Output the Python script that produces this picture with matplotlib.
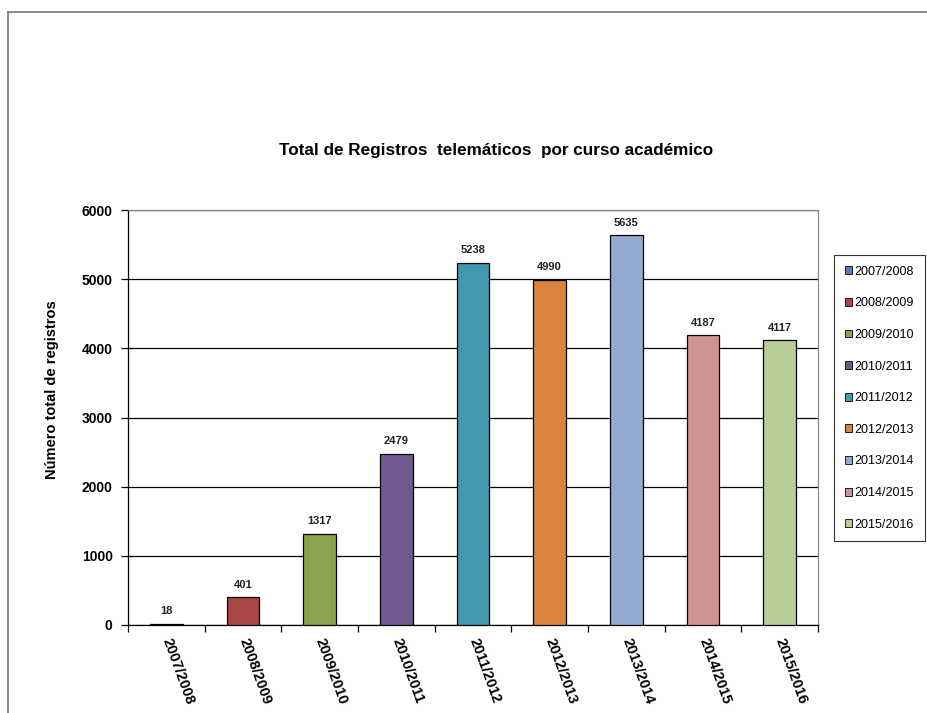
import numpy as np
import matplotlib
matplotlib.use("Agg")
import matplotlib.pyplot as plt
from matplotlib.lines import Line2D

plt.rcParams['font.family'] = ['Liberation Sans', 'DejaVu Sans']

# Datos
cursos = ['2007/2008', '2008/2009', '2009/2010', '2010/2011', '2011/2012',
          '2012/2013', '2013/2014', '2014/2015', '2015/2016']
registros = [18, 401, 1317, 2479, 5238, 4990, 5635, 4187, 4117]
colores = ['#4F81BD', '#AA4643', '#89A54E', '#71588F', '#4198AF',
           '#DB843D', '#93A9CF', '#D19392', '#B9CD96']
y_ticks = [0, 1000, 2000, 3000, 4000, 5000, 6000]

fig = plt.figure(figsize=(9.28, 7.13), dpi=100)
ax = fig.add_axes([128 / 928, 1 - 625 / 713, 690 / 928, 415 / 713])

x = np.arange(len(cursos))
for i in range(len(cursos)):
    ax.bar(x[i], registros[i], width=0.43, color=colores[i], edgecolor='black',
           linewidth=0.9, label=cursos[i], zorder=3)
    ax.text(x[i], registros[i] + 110, str(registros[i]), ha='center', va='bottom',
            fontsize=8, fontweight='bold', color='#222222')

ax.set_xlim(-0.5, len(cursos) - 0.5)
ax.set_ylim(0, 6000)
ax.set_yticks(y_ticks)
ax.set_yticklabels([str(v) for v in y_ticks], fontsize=10, fontweight='bold')
ax.yaxis.grid(True, color='black', linewidth=0.9, zorder=0)
ax.set_axisbelow(True)

# ticks on category boundaries, labels at centres
ax.set_xticks(x)
ax.set_xticklabels(cursos, rotation=-70, ha='left', va='center',
                   rotation_mode='anchor', fontsize=10.5, fontweight='bold')
ax.set_xticks(np.arange(len(cursos) + 1) - 0.5, minor=True)
ax.tick_params(axis='x', which='major', length=0, pad=10)
ax.tick_params(axis='x', which='minor', length=5, width=0.9, color='black')
ax.tick_params(axis='y', length=5, width=0.9, color='black', pad=6)

for side in ['top', 'right']:
    ax.spines[side].set_color('#888888')
    ax.spines[side].set_linewidth(0.9)
ax.spines['left'].set_linewidth(0.9)
ax.spines['bottom'].set_linewidth(0.9)

fig.text(52 / 928, 1 - 390 / 713, 'Número total de registros', rotation=90,
         ha='center', va='center', fontsize=10.5, fontweight='bold')

fig.text(496 / 928, 1 - 151 / 713, 'Total de Registros  telemáticos  por curso académico',
         ha='center', va='center', fontsize=12.3, fontweight='bold')

leg = fig.legend(loc='upper left', bbox_to_anchor=(834 / 928, 1 - 255 / 713),
                 frameon=True, fancybox=False, edgecolor='black', fontsize=9,
                 handlelength=0.6, handleheight=0.6, handletextpad=0.2,
                 labelspacing=1.57, borderpad=0.85, borderaxespad=0)
leg.get_frame().set_linewidth(0.8)
for h in leg.legend_handles:
    h.set_linewidth(0.6)

# marco exterior
fig.add_artist(Line2D([8 / 928, 8 / 928], [0, 1 - 12 / 713], transform=fig.transFigure,
                      color='#777777', linewidth=1.2))
fig.add_artist(Line2D([8 / 928, 1], [1 - 12 / 713, 1 - 12 / 713], transform=fig.transFigure,
                      color='#777777', linewidth=1.2))

fig.savefig('out.png', dpi=100)
